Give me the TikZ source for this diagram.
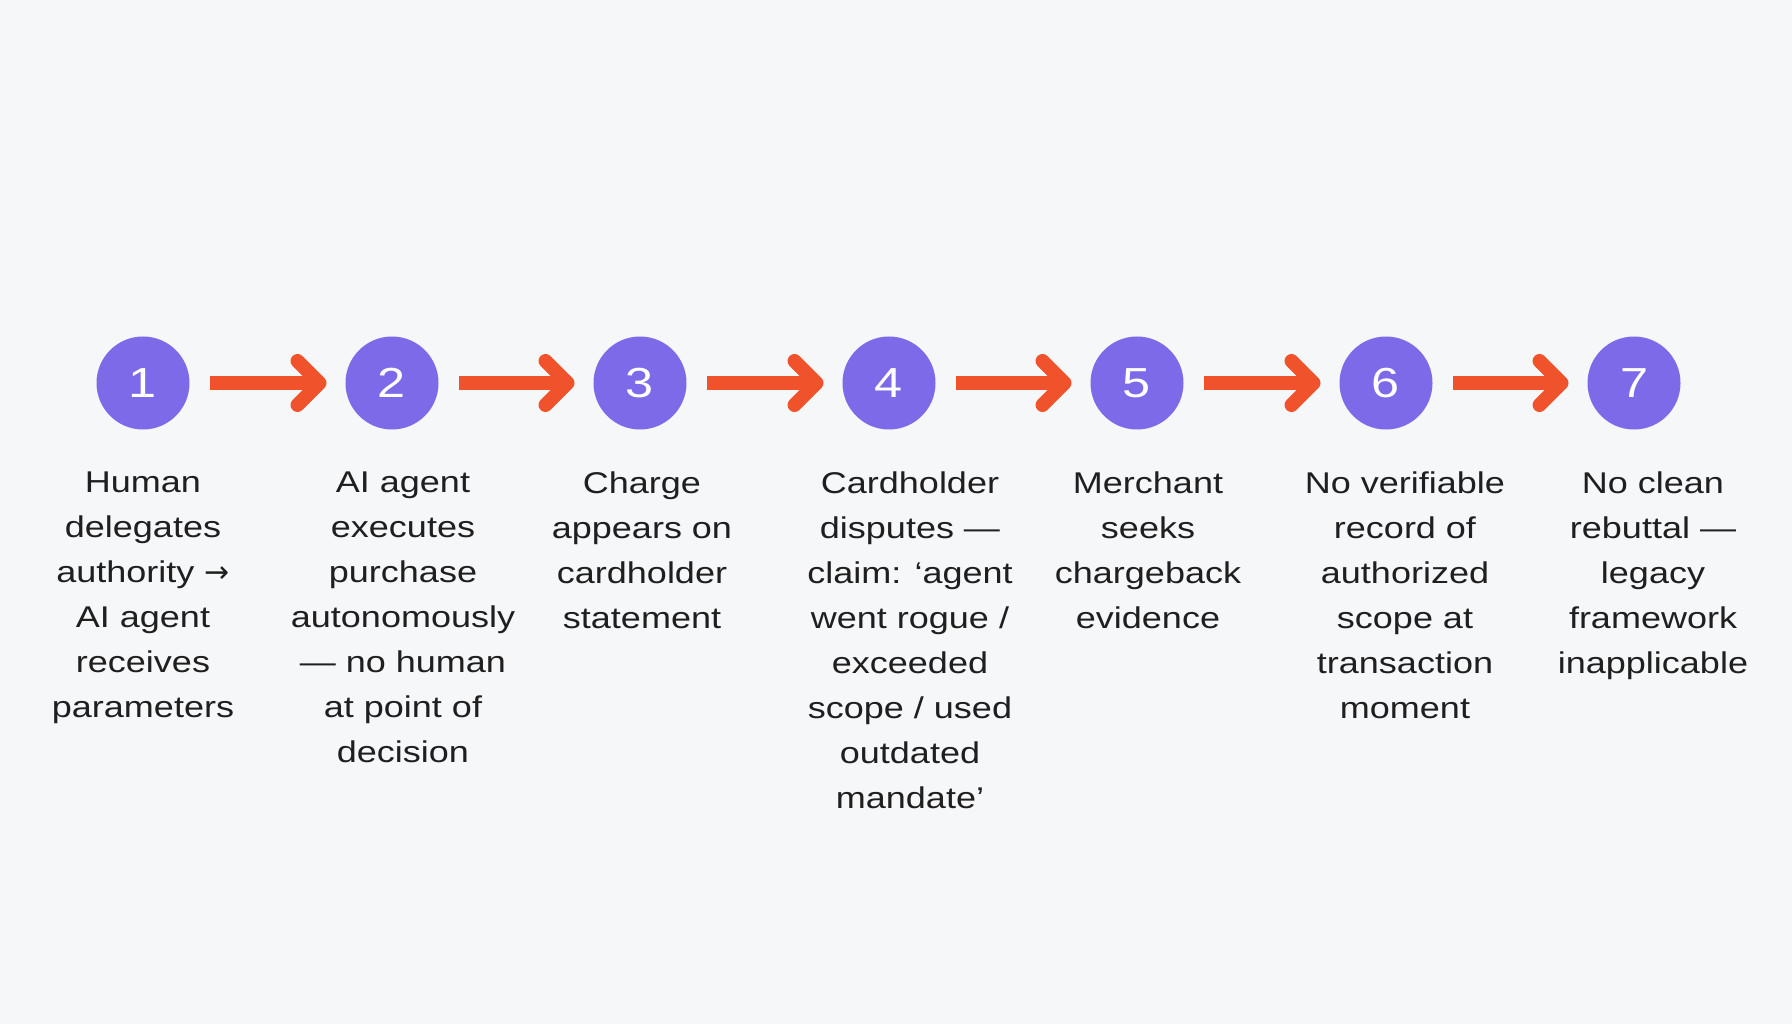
\documentclass[tikz,border=0pt]{standalone}
\usepackage{fontspec}
\setmainfont[FakeStretch=1.2]{Liberation Sans}
\newfontfamily\arrowfont{DejaVu Sans}
\usetikzlibrary{arrows.meta}
\definecolor{stepviolet}{HTML}{7C6AE8}
\definecolor{flowred}{HTML}{F0522B}
\definecolor{pagebg}{HTML}{F6F7F9}
\definecolor{inkgray}{HTML}{1F1F1F}
\begin{document}
\begin{tikzpicture}[x=1pt, y=-1pt,
    stepdot/.style={circle, fill=stepviolet, minimum size=93pt, inner sep=0pt, outer sep=0pt,
        text=white, font=\fontsize{42}{42}\selectfont},
    flowarrow/.style={draw=flowred, line width=14pt, -{Straight Barb[length=22pt, width=44pt, round]},
        shorten <=20pt, shorten >=19pt},
    caption/.style={align=center, inner sep=0pt, anchor=north, text=inkgray,
        font=\fontsize{30}{45}\selectfont}]
    \fill[pagebg] (0,0) rectangle (1792,1024);
    % steps
    \node[stepdot] (c1) at (143,383) {1};
    \node[stepdot] (c2) at (392,383) {2};
    \node[stepdot] (c3) at (640,383) {3};
    \node[stepdot] (c4) at (889,383) {4};
    \node[stepdot] (c5) at (1137,383) {5};
    \node[stepdot] (c6) at (1386,383) {6};
    \node[stepdot] (c7) at (1634,383) {7};
    \draw[flowarrow] (c1) -- (c2);
    \draw[flowarrow] (c2) -- (c3);
    \draw[flowarrow] (c3) -- (c4);
    \draw[flowarrow] (c4) -- (c5);
    \draw[flowarrow] (c5) -- (c6);
    \draw[flowarrow] (c6) -- (c7);
    % captions
    \node[caption] (t1) at (143,472) {Human\\delegates\\authority {\arrowfont →}\\AI agent\\receives\\parameters};
    \node[caption] (t2) at (403,472) {AI agent\\executes\\purchase\\autonomously\\— no human\\at point of\\decision};
    \node[caption] (t3) at (642,472) {Charge\\appears on\\cardholder\\statement};
    \node[caption] (t4) at (910,472) {Cardholder\\disputes —\\claim: ‘agent\\went rogue /\\exceeded\\scope / used\\outdated\\mandate’};
    \node[caption] (t5) at (1148,472) {Merchant\\seeks\\chargeback\\evidence};
    \node[caption] (t6) at (1405,472) {No verifiable\\record of\\authorized\\scope at\\transaction\\moment};
    \node[caption] (t7) at (1653,472) {No clean\\rebuttal —\\legacy\\framework\\inapplicable};
\end{tikzpicture}
\end{document}
